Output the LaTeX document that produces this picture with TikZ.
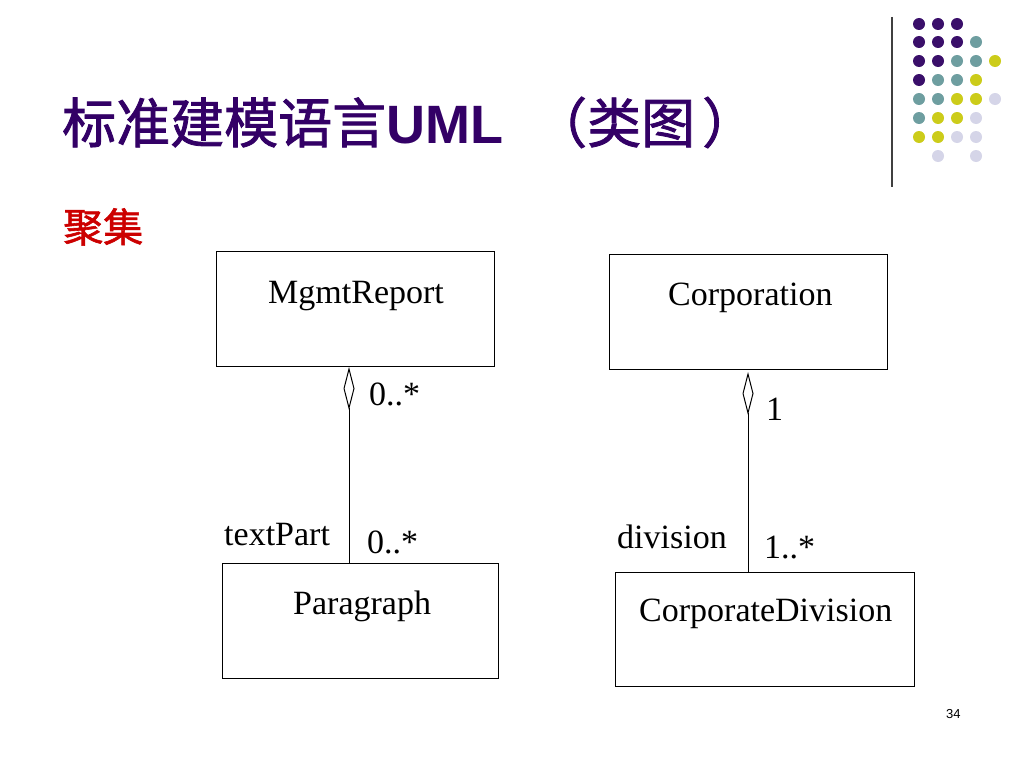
\documentclass[tikz,border=0pt]{standalone}
\usepackage{fontspec}
\setmainfont{Liberation Serif}
\newfontfamily\cjk[FakeBold=1.5]{Noto Sans CJK SC}
\newfontfamily\arialfont{Liberation Sans}
\usetikzlibrary{arrows.meta}
\definecolor{tpurple}{HTML}{330066}
\definecolor{tred}{HTML}{CC0000}
\definecolor{dpurple}{HTML}{3A0F6A}
\definecolor{dteal}{HTML}{6E9EA0}
\definecolor{dyellow}{HTML}{CCCC1A}
\definecolor{dlav}{HTML}{D5D5E8}
\tikzset{
  classbox/.style={draw, line width=1pt, inner sep=0pt, outer sep=0pt, anchor=north west},
  lbl/.style={inner sep=0pt, anchor=base west, font=\fontsize{34}{40}\selectfont},
  aggr/.style={line width=1pt, {Diamond[open,length=43pt,width=11pt,line width=1pt]}-},
  dotP/.style={fill=dpurple},
  dotT/.style={fill=dteal},
  dotY/.style={fill=dyellow},
  dotL/.style={fill=dlav}
}
\begin{document}
\begin{tikzpicture}[x=1pt,y=-1pt]
\useasboundingbox (0,0) rectangle (1024,768);
\fill[white] (0,0) rectangle (1024,768);

% title
\node[inner sep=0pt, anchor=base west, text=tpurple] (title) at (62,143)
  {\fontsize{54}{60}\selectfont\cjk 标准建模语言{\arialfont\bfseries UML }\hspace{15pt}（类图\hspace{7pt}）};
\node[inner sep=0pt, anchor=base west, text=tred] (sub) at (63,242)
  {\fontsize{40}{46}\selectfont\cjk 聚集};

% decoration: line and dots
\draw[line width=1.3pt, color=black!75] (892,17) -- (892,187);
\foreach \c/\x/\y in {
  P/919/24, P/938/24, P/957/24,
  P/919/42, P/938/42, P/957/42, T/976/42,
  P/919/61, P/938/61, T/957/61, T/976/61, Y/995/61,
  P/919/80, T/938/80, T/957/80, Y/976/80,
  T/919/99, T/938/99, Y/957/99, Y/976/99, L/995/99,
  T/919/118, Y/938/118, Y/957/118, L/976/118,
  Y/919/137, Y/938/137, L/957/137, L/976/137,
  L/938/156, L/976/156}
  \fill[dot\c] (\x,\y) circle[radius=6pt];

% class boxes
\node[classbox, minimum width=278pt, minimum height=115pt] (mgmt) at (216,251) {};
\node[classbox, minimum width=278pt, minimum height=115pt] (corp) at (609,254) {};
\node[classbox, minimum width=276pt, minimum height=115pt] (para) at (222,563) {};
\node[classbox, minimum width=299pt, minimum height=114pt] (cdiv) at (615,572) {};

\node[lbl] (mgmtT) at (268,303) {MgmtReport};
\node[lbl] (corpT) at (668,305) {Corporation};
\node[lbl] (paraT) at (293,614) {Paragraph};
\node[lbl] (cdivT) at (639,621) {CorporateDivision};

% connectors
\coordinate (lx) at (349,0);
\coordinate (rx) at (748,0);
\draw[aggr, shorten <=1pt] (mgmt.south -| lx) -- (para.north -| lx);
\draw[aggr, shorten <=3pt] (corp.south -| rx) -- (cdiv.north -| rx);

% multiplicities and roles
\node[lbl] (m1) at (369,405) {0..*};
\node[lbl] (m2) at (766,420) {1};
\node[lbl] (r1) at (224,545) {textPart};
\node[lbl] (m3) at (367,553) {0..*};
\node[lbl] (r2) at (617,548) {division};
\node[lbl] (m4) at (764,558) {1..*};

% page number
\node[inner sep=0pt, anchor=base west, font=\arialfont\fontsize{13}{15}\selectfont] (pg) at (946,718) {34};
\end{tikzpicture}
\end{document}
